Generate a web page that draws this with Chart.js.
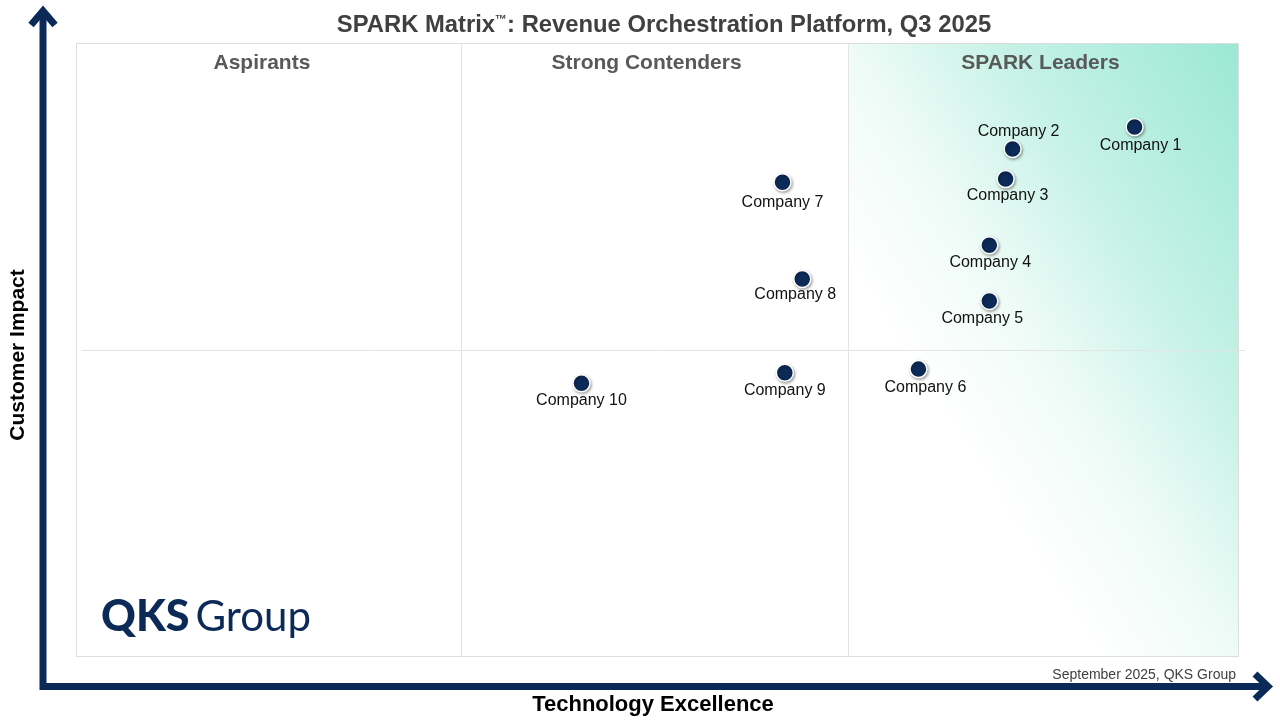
<!DOCTYPE html>
<html lang="en">
<head>
    <meta charset="UTF-8">
    <title>SPARK Matrix: Revenue Orchestration Platform, Q3 2025</title>
    <script src="https://cdn.jsdelivr.net/npm/chart.js"></script>
    <style>
        body {
            margin: 0;
            padding: 0;
            background: #ffffff;
        }
        #matrix {
            display: block;
        }
    </style>
</head>
<body>
    <canvas id="matrix" width="1280" height="720"></canvas>

    <script>
        // values, both axes on a 0-100 scale
        const companies = ['Company 1', 'Company 2', 'Company 3', 'Company 4', 'Company 5',
                           'Company 6', 'Company 7', 'Company 8', 'Company 9', 'Company 10'];
        const technologyExcellence = [91.1, 80.6, 80.0, 78.6, 78.6, 72.5, 60.8, 62.5, 61.0, 43.5];
        const customerImpact = [86.3, 82.7, 77.8, 67.0, 57.9, 46.8, 77.3, 61.5, 46.2, 44.5];
        const quadrants = ['Aspirants', 'Strong Contenders', 'SPARK Leaders'];
        const columnBounds = [33.1, 66.4];
        const impactSplit = 50;

        // where each company label sits relative to its dot (px)
        const labelShift = [[6, 19], [6, -17], [2, 17], [1, 17], [-7, 18],
                            [7, 18], [0, 20], [-7, 16], [0, 18], [0, 17]];

        const navy = '#0c2a57';
        const font = '"Liberation Sans", Arial, sans-serif';

        const matrixPlugin = {
            id: 'matrix',
            beforeDatasetsDraw(chart) {
                const ctx = chart.ctx;
                const x = chart.scales.x, y = chart.scales.y;
                const left = x.getPixelForValue(0), right = x.getPixelForValue(100);
                const top = y.getPixelForValue(100), bottom = y.getPixelForValue(0);
                const col1 = Math.round(x.getPixelForValue(columnBounds[0]));
                const col2 = Math.round(x.getPixelForValue(columnBounds[1]));
                const mid = Math.round(y.getPixelForValue(impactSplit));

                ctx.save();
                // leaders column shading
                ctx.translate(col2, top);
                ctx.scale(right - col2, bottom - top);
                const g = ctx.createLinearGradient(1, 0, 0, 1);
                g.addColorStop(0, '#9be8d3');
                g.addColorStop(0.3, '#c6f2e6');
                g.addColorStop(0.5, '#eefbf7');
                g.addColorStop(0.68, '#ffffff');
                g.addColorStop(1, '#ffffff');
                ctx.fillStyle = g;
                ctx.fillRect(0, 0, 1, 1);
                ctx.restore();

                ctx.save();
                ctx.strokeStyle = '#dddddd';
                ctx.lineWidth = 1;
                ctx.strokeRect(left + 0.5, top + 0.5, right - left, bottom - top);
                ctx.strokeStyle = '#e4e4e4';
                ctx.beginPath();
                ctx.moveTo(col1 + 0.5, top); ctx.lineTo(col1 + 0.5, bottom);
                ctx.moveTo(col2 + 0.5, top); ctx.lineTo(col2 + 0.5, bottom);
                ctx.moveTo(left + 6, mid + 0.5); ctx.lineTo(right + 7, mid + 0.5);
                ctx.stroke();

                // quadrant names
                ctx.fillStyle = '#595959';
                ctx.font = 'bold 21px ' + font;
                ctx.textAlign = 'center';
                ctx.textBaseline = 'middle';
                [16, 49.1, 83].forEach((v, i) => {
                    ctx.fillText(quadrants[i], x.getPixelForValue(v), top + 20);
                });

                // logo
                ctx.fillStyle = navy;
                ctx.textAlign = 'left';
                ctx.textBaseline = 'alphabetic';
                ctx.font = '900 43px Lato, ' + font;
                ctx.fillText('QKS', left + 25, bottom - 25);
                const w = ctx.measureText('QKS').width;
                ctx.font = '400 42px Lato, ' + font;
                ctx.fillText('Group', left + 25 + w + 6, bottom - 25);
                ctx.restore();

                // soft shadow under the dots
                ctx.save();
                ctx.shadowColor = 'rgba(0, 0, 0, 0.35)';
                ctx.shadowBlur = 3;
                ctx.shadowOffsetX = 1;
                ctx.shadowOffsetY = 1.5;
            },
            afterDatasetsDraw(chart) {
                const ctx = chart.ctx;
                ctx.restore();
                const meta = chart.getDatasetMeta(0);
                ctx.save();
                ctx.fillStyle = '#111111';
                ctx.font = '16px ' + font;
                ctx.textAlign = 'center';
                ctx.textBaseline = 'middle';
                meta.data.forEach((pt, i) => {
                    ctx.fillText(companies[i], pt.x + labelShift[i][0], pt.y + labelShift[i][1]);
                });
                ctx.restore();
            },
            afterDraw(chart) {
                const ctx = chart.ctx;
                ctx.save();
                // title, with a small raised trademark sign
                const partA = 'SPARK Matrix';
                const tm = '\u2122';
                const partB = ': Revenue Orchestration Platform, Q3 2025';
                const big = 'bold 23.8px ' + font, small = 'bold 12px ' + font;
                ctx.fillStyle = '#404040';
                ctx.textBaseline = 'alphabetic';
                ctx.textAlign = 'left';
                ctx.font = big;
                const wA = ctx.measureText(partA).width;
                const wB = ctx.measureText(partB).width;
                ctx.font = small;
                const wT = ctx.measureText(tm).width;
                let tx = 664 - (wA + wT + wB) / 2;
                ctx.font = big;
                ctx.fillText(partA, tx, 32);
                ctx.font = small;
                ctx.fillText(tm, tx + wA, 23);
                ctx.font = big;
                ctx.fillText(partB, tx + wA + wT, 32);

                // axis arrows
                ctx.strokeStyle = navy;
                ctx.lineWidth = 7;
                ctx.lineJoin = 'miter';
                ctx.beginPath();
                ctx.moveTo(43, 11); ctx.lineTo(43, 686.5); ctx.lineTo(1266, 686.5);
                ctx.stroke();
                ctx.beginPath();
                ctx.moveTo(31, 25); ctx.lineTo(43, 11); ctx.lineTo(55, 25);
                ctx.stroke();
                ctx.beginPath();
                ctx.moveTo(1255, 674); ctx.lineTo(1268, 686.5); ctx.lineTo(1255, 699);
                ctx.stroke();

                // axis names
                ctx.fillStyle = '#000000';
                ctx.textAlign = 'center';
                ctx.textBaseline = 'middle';
                ctx.font = 'bold 22px ' + font;
                ctx.fillText('Technology Excellence', 653, 705);
                ctx.save();
                ctx.translate(18, 355);
                ctx.rotate(-Math.PI / 2);
                ctx.font = 'bold 21px ' + font;
                ctx.fillText('Customer Impact', 0, 0);
                ctx.restore();

                ctx.fillStyle = '#404040';
                ctx.font = '14px ' + font;
                ctx.textAlign = 'right';
                ctx.fillText('September 2025, QKS Group', 1236, 675);
                ctx.restore();
            }
        };

        const points = companies.map((name, i) => ({ x: technologyExcellence[i], y: customerImpact[i] }));

        const ctx = document.getElementById('matrix').getContext('2d');
        const matrixChart = new Chart(ctx, {
            type: 'scatter',
            data: {
                datasets: [{
                    label: 'Vendors',
                    data: points,
                    pointRadius: 8.5,
                    pointHoverRadius: 8.5,
                    pointBackgroundColor: navy,
                    pointBorderColor: '#ffffff',
                    pointBorderWidth: 1.5
                }]
            },
            options: {
                responsive: false,
                animation: false,
                devicePixelRatio: 1,
                layout: {
                    padding: { left: 76, right: 42, top: 43, bottom: 64 }
                },
                scales: {
                    x: { type: 'linear', min: 0, max: 100, display: false },
                    y: { type: 'linear', min: 0, max: 100, display: false }
                },
                plugins: {
                    legend: { display: false },
                    tooltip: { enabled: false }
                }
            },
            plugins: [matrixPlugin]
        });
    </script>
</body>
</html>
